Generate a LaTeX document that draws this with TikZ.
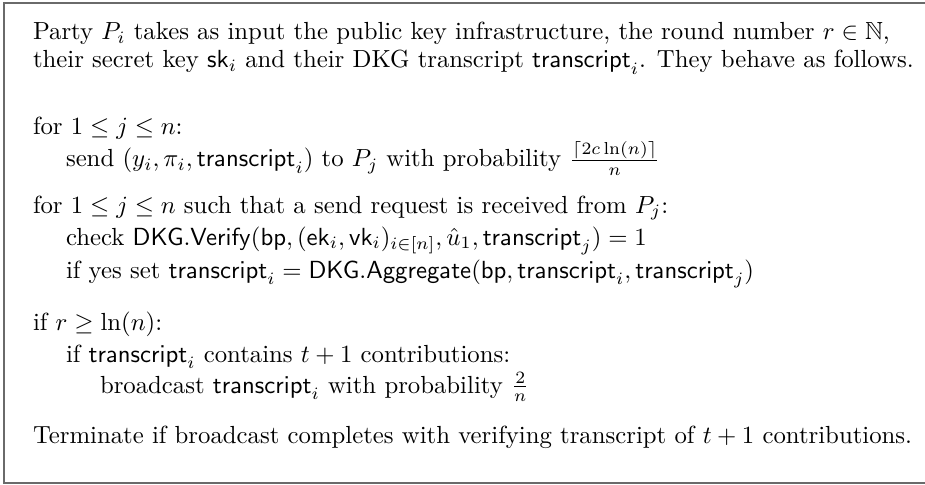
\documentclass[tikz,border=0pt]{standalone}
\usepackage{amsmath,amssymb}
\usepackage{xcolor}
\definecolor{rule}{HTML}{6A6A6A}
\usepackage{tikz}
\tikzset{
  ln/.style={anchor=base west,inner sep=0pt,outer sep=0pt},
  frame/.style={draw=rule,line width=0.5pt},
}
\newcommand{\trs}{\mathsf{transcript}}

\begin{document}
\begin{tikzpicture}[x=0.404pt,y=-0.404pt]
\useasboundingbox (0,0) rectangle (925,485);
% open frame, right side runs off the page
\draw[frame] (940,3) -- (4,3) -- (4,483) -- (940,483);
% preamble
\node[ln] (intro1) at (33,40) {Party $P_i$ takes as input the public key infrastructure, the round number $r\in\mathbb{N}$,};
\node[ln] (intro2) at (33,68) {their secret key $\mathsf{sk}_i$ and their DKG transcript $\trs_i$. They behave as follows.};
% sending
\node[ln] (for1) at (33,135) {for $1\le j\le n$:};
\node[ln] (send) at (66,167) {send $(y_i,\pi_i,\trs_i)$ to $P_j$ with probability $\frac{\lceil 2c\ln(n)\rceil}{n}$};
% receiving
\node[ln] (for2) at (33,213) {for $1\le j\le n$ such that a send request is received from $P_j$:};
\node[ln] (check) at (66,245) {check $\mathsf{DKG.Verify}(\mathsf{bp},(\mathsf{ek}_i,\mathsf{vk}_i)_{i\in[n]},\hat{u}_1,\trs_j)=1$};
\node[ln] (agg) at (66,278) {if yes set $\trs_i=\mathsf{DKG.Aggregate}(\mathsf{bp},\trs_i,\trs_j)$};
% broadcast phase
\node[ln] (ifr) at (33,330) {if $r\ge\ln(n)$:};
\node[ln] (full) at (66,362) {if $\trs_i$ contains $t+1$ contributions:};
\node[ln] (bcast) at (100,393) {broadcast $\trs_i$ with probability $\frac{2}{n}$};
\node[ln] (term) at (33,443) {Terminate if broadcast completes with verifying transcript of $t+1$ contributions.};
\end{tikzpicture}
\end{document}
